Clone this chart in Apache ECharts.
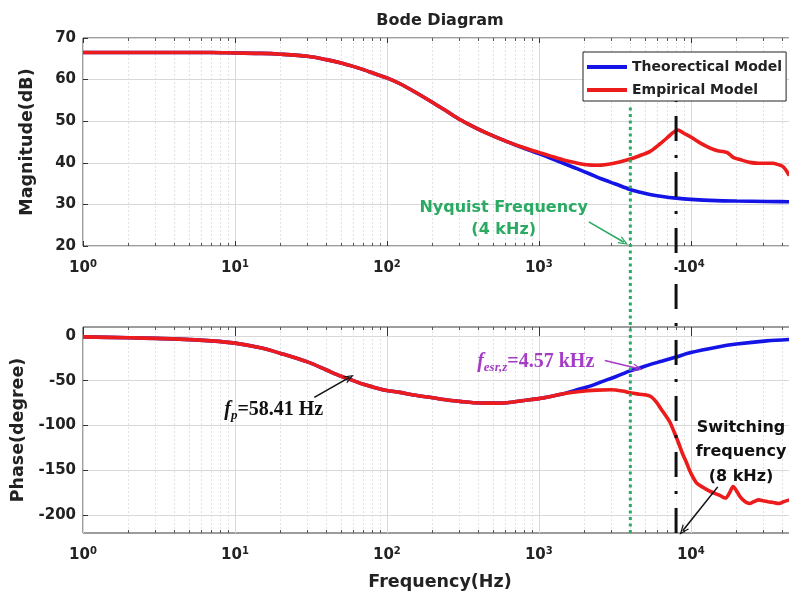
<!DOCTYPE html>
<html><head><meta charset="utf-8">
<script src="https://cdn.jsdelivr.net/npm/echarts@6/dist/echarts.min.js"></script>
<style>html,body{margin:0;padding:0;background:#fff}#c{width:789px;height:593px}</style>
</head><body><div id="c"></div>
<script>
// ---------- data ----------
const freqTheo = [1, 2, 4.3, 7, 10, 15, 20, 30, 40, 50, 58.41, 70, 85, 100, 122, 150, 200, 250, 302, 370, 450, 617, 800, 1000, 1200, 1450, 1750, 2170, 2600, 3200, 3980, 4570, 5370, 6500, 8000, 10000, 14800, 20000, 31600, 50000];
const magTheo = [66.5, 66.5, 66.5, 66.5, 66.4, 66.3, 66.1, 65.6, 64.8, 64.0, 63.3, 62.4, 61.3, 60.4, 59.0, 57.2, 54.5, 52.3, 50.4, 48.7, 47.2, 45.1, 43.5, 42.2, 41.1, 39.9, 38.7, 37.3, 36.1, 34.9, 33.6, 33.0, 32.4, 31.9, 31.5, 31.2, 30.9, 30.8, 30.7, 30.6];
const phaseTheo = [-1, -2, -3.5, -5.5, -8, -13.5, -19.5, -29, -38, -45, -49, -54, -58, -61, -63, -66, -69, -71.5, -73, -74.5, -75, -74.5, -72, -70, -67.5, -64.5, -60.5, -56, -51, -45.5, -39, -36, -32, -28, -23.5, -18.5, -12.5, -9, -5.5, -3.5];

const freqEmpMag = [1, 2, 4.3, 7, 10, 15, 20, 30, 40, 50, 58.41, 70, 85, 100, 122, 150, 200, 250, 302, 370, 450, 617, 800, 1000, 1200, 1450, 1750, 2000, 2400, 2800, 3400, 4000, 4600, 5370, 6200, 6940, 7600, 8190, 9000, 10000, 11500, 13300, 15000, 16300, 17500, 19000, 21000, 24400, 28000, 34600, 38000, 40000, 42000, 44500];
const magEmp = [66.5, 66.5, 66.5, 66.5, 66.4, 66.3, 66.1, 65.6, 64.8, 64.0, 63.3, 62.4, 61.3, 60.4, 59.0, 57.2, 54.5, 52.3, 50.4, 48.7, 47.2, 45.1, 43.6, 42.5, 41.6, 40.7, 40.0, 39.6, 39.4, 39.6, 40.2, 40.9, 41.7, 42.7, 44.4, 45.9, 47.2, 47.9, 47.1, 46.2, 44.8, 43.6, 42.9, 42.7, 42.4, 41.3, 40.8, 40.1, 39.9, 39.9, 39.5, 39.2, 38.4, 36.9];

const freqEmpPhase = [1, 2, 4.3, 7, 10, 15, 20, 30, 40, 50, 58.41, 70, 85, 100, 122, 150, 200, 250, 302, 370, 450, 617, 800, 1000, 1200, 1450, 1860, 2400, 3000, 3560, 4000, 4600, 5100, 5500, 5940, 6400, 6900, 7280, 7800, 8200, 8800, 9400, 10000, 10900, 12000, 13200, 14500, 15500, 16900, 18000, 19000, 20000, 21200, 22800, 24400, 26000, 28000, 30000, 32300, 35000, 38000, 41000, 44500];
const phaseEmp = [-1, -2, -3.5, -5.5, -8, -13.5, -19.5, -29, -38, -45, -49, -54, -58, -61, -63, -66, -69, -71.5, -73, -74.5, -75, -74.5, -72, -70, -67.5, -64.5, -62, -60.5, -60, -61.5, -63.5, -65, -66, -68, -74, -82, -90, -96, -108, -117, -131, -142, -153, -164, -169, -173, -176, -178, -181, -175, -168, -173, -180, -185, -187, -185, -183, -184, -185, -186, -187, -185, -183];

const phaseTicks = [-200, -150, -100, -50, 0];
const nyquistFreq = 4000;
const switchFreq = 8000;
const seriesNames = ['Theorectical Model', 'Empirical Model'];

// minor log ticks 2..9 per decade
const minorFreqs = [];
for (let k = 0; k <= 4; k++) for (let m = 2; m <= 9; m++) { const v = m * Math.pow(10, k); if (v < 50000) minorFreqs.push(v); }

// ---------- styling ----------
const SANS = 'DejaVu Sans', SERIF = 'Liberation Serif';
const TXT = '#222';
const BLUE = '#1414e6', RED = '#ec1c1c', GREEN = '#2aaa62', MAG = '#a53cc6';
const pairs = (xs, ys) => xs.map((x, i) => [x, ys[i]]);
const arrowHead = 'path://M0,10 L5,0 L10,10 L8.4,10 L5,3.2 L1.6,10 Z';
// vertical reference lines start just below the legend box (fraction of the overlay height)
const nyquistTop = 0.862, switchTop = 0.873;

function decadeLabel(v) {
  const e = Math.round(Math.log10(v));
  return Math.abs(Math.pow(10, e) - v) < 1e-6 * v ? '10{sup|' + e + '}' : '';
}
const labelFont = { fontFamily: SANS, fontWeight: 'bold', fontSize: 15, color: TXT };
const nameFont = { fontFamily: SANS, fontWeight: 'bold', fontSize: 17.5, color: TXT };

function xAxesFor(gridIndex, withLabels, name) {
  const base = { type: 'log', logBase: 10, gridIndex, min: 1, max: 50000, axisLine: { show: false } };
  return [
    Object.assign({}, base, {
      position: 'bottom',
      axisTick: { show: true, inside: true, length: 5, lineStyle: { color: '#333' } },
      axisLabel: Object.assign({ show: withLabels, margin: 13, formatter: decadeLabel,
        rich: { sup: { fontFamily: SANS, fontWeight: 'bold', fontSize: 10, color: TXT, padding: [0, 0, 9, 0] } } }, labelFont),
      splitLine: { show: true, lineStyle: { color: '#d8d8d8', width: 1 } },
      name: name || '', nameLocation: 'middle', nameGap: 40, nameTextStyle: nameFont
    }),
    Object.assign({}, base, {
      position: 'bottom',
      axisTick: { show: true, inside: true, length: 3, customValues: minorFreqs, lineStyle: { color: '#555' } },
      axisLabel: { show: false },
      splitLine: { show: true, lineStyle: { color: '#e2e2e2', width: 1, type: [2, 2] } }
    }),
    Object.assign({}, base, {
      position: 'top',
      axisTick: { show: true, inside: true, length: 5, lineStyle: { color: '#333' } },
      axisLabel: { show: false }, splitLine: { show: false }
    }),
    Object.assign({}, base, {
      position: 'top',
      axisTick: { show: true, inside: true, length: 3, customValues: minorFreqs, lineStyle: { color: '#555' } },
      axisLabel: { show: false }, splitLine: { show: false }
    })
  ];
}

const xAxis = [].concat(
  xAxesFor(0, true, ''),
  xAxesFor(1, true, 'Frequency(Hz)'),
  [{ type: 'log', logBase: 10, gridIndex: 2, min: 1, max: 50000, show: false }]
);

const yAxis = [
  { type: 'value', gridIndex: 0, min: 20, max: 70, interval: 10,
    axisLine: { show: false },
    axisTick: { show: true, inside: true, length: 5, lineStyle: { color: '#333' } },
    axisLabel: Object.assign({ margin: 7 }, labelFont),
    splitLine: { show: true, lineStyle: { color: '#d8d8d8' } },
    name: 'Magnitude(dB)', nameLocation: 'middle', nameGap: 47, nameTextStyle: nameFont },
  { type: 'value', gridIndex: 1, min: -220, max: 10,
    axisLine: { show: false },
    axisTick: { show: true, inside: true, length: 5, customValues: phaseTicks, lineStyle: { color: '#333' } },
    axisLabel: Object.assign({ margin: 7, customValues: phaseTicks }, labelFont),
    splitLine: { show: true, lineStyle: { color: '#d8d8d8' } },
    name: 'Phase(degree)', nameLocation: 'middle', nameGap: 49, nameTextStyle: nameFont },
  { type: 'value', gridIndex: 2, min: 0, max: 1, show: false }
];

const gridBox = { show: true, borderColor: '#3a3a3a', borderWidth: 1, backgroundColor: 'transparent', outerBoundsMode: 'none', containLabel: false };
const grid = [
  Object.assign({ left: 83, top: 38, width: 714, height: 208 }, gridBox),
  Object.assign({ left: 83, top: 327, width: 714, height: 206 }, gridBox),
  { left: 83, top: 38, width: 714, height: 495, show: false, outerBoundsMode: 'none', containLabel: false }
];

function arrow(from, to, color) {
  return [{ coord: from, lineStyle: { color, width: 1.6, type: 'solid' } }, { coord: to }];
}
function textMark(coord, formatter, style) {
  return { coord, symbol: 'circle', symbolSize: 1, itemStyle: { color: 'rgba(0,0,0,0)' },
    label: Object.assign({ show: true, position: 'inside', formatter, align: 'center' }, style) };
}
const serifRich = (color) => ({
  fi: { fontFamily: SERIF, fontStyle: 'italic', fontWeight: 'bold', fontSize: 20, color },
  sub: { fontFamily: SERIF, fontStyle: 'italic', fontWeight: 'bold', fontSize: 13, color, padding: [10, 0, 0, 0] },
  t: { fontFamily: SERIF, fontWeight: 'bold', fontSize: 20, color }
});

const curve = (color) => ({ type: 'line', showSymbol: false, symbol: 'none', smooth: 0.3,
  color, itemStyle: { color }, lineStyle: { color, width: 3.6 }, z: 2 });

const series = [
  Object.assign(curve(BLUE), { name: seriesNames[0], xAxisIndex: 0, yAxisIndex: 0, data: pairs(freqTheo, magTheo),
    markLine: { silent: true, animation: false, symbol: ['none', arrowHead], symbolSize: [8, 10], label: { show: false },
      data: [arrow([2133, 25.8], [3630, 20.9], GREEN)] },
    markPoint: { silent: true, animation: false,
      data: [textMark([587, 26.6], 'Nyquist Frequency\n(4 kHz)', { color: GREEN, fontFamily: SANS, fontWeight: 'bold', fontSize: 16, lineHeight: 22 })] } }),
  Object.assign(curve(RED), { name: seriesNames[1], xAxisIndex: 0, yAxisIndex: 0, data: pairs(freqEmpMag, magEmp) }),
  Object.assign(curve(BLUE), { name: seriesNames[0], xAxisIndex: 4, yAxisIndex: 1, data: pairs(freqTheo, phaseTheo),
    markLine: { silent: true, animation: false, symbol: ['none', arrowHead], symbolSize: [8, 10], label: { show: false },
      data: [
        arrow([33.3, -68.6], [56.7, -46.3], '#111'),
        arrow([2718, -27.4], [4487, -36.3], MAG),
        arrow([15040, -168.5], [8850, -217.5], '#111')
      ] },
    markPoint: { silent: true, animation: false,
      data: [
        textMark([18.0, -83], '{fi|f}{sub|p}{t|=58.41 Hz}', { rich: serifRich('#111') }),
        textMark([954, -29.3], '{fi|f}{sub|esr,z}{t|=4.57 kHz}', { rich: serifRich(MAG) }),
        textMark([21400, -129.8], 'Switching\nfrequency\n(8 kHz)', { color: '#111', fontFamily: SANS, fontWeight: 'bold', fontSize: 16, lineHeight: 24.5 })
      ] } }),
  Object.assign(curve(RED), { name: seriesNames[1], xAxisIndex: 4, yAxisIndex: 1, data: pairs(freqEmpPhase, phaseEmp) }),
  { type: 'line', name: 'nyquist', xAxisIndex: 8, yAxisIndex: 2, symbol: 'none', z: 3, silent: true,
    data: [[nyquistFreq, 0], [nyquistFreq, nyquistTop]], lineStyle: { color: GREEN, width: 3, type: [3, 3.5] } },
  { type: 'line', name: 'switching', xAxisIndex: 8, yAxisIndex: 2, symbol: 'none', z: 3, silent: true,
    data: [[switchFreq, 0], [switchFreq, switchTop]], lineStyle: { color: '#111', width: 3, type: [25, 14, 3, 14] } }
];

const option = {
  animation: false,
  backgroundColor: '#fff',
  title: { text: 'Bode Diagram', left: 440, top: 13, textAlign: 'center', padding: 0,
    textStyle: { fontFamily: SANS, fontWeight: 'bold', fontSize: 16, color: TXT } },
  legend: { data: seriesNames, orient: 'vertical', left: 583, top: 52, icon: 'rect', itemWidth: 40, itemHeight: 4,
    itemGap: 9, padding: [8, 4, 4, 4], borderColor: '#222', borderWidth: 1, borderRadius: 0, backgroundColor: '#fff',
    textStyle: { fontFamily: SANS, fontWeight: 'bold', fontSize: 14, color: TXT }, selectedMode: false, z: 10 },
  grid, xAxis, yAxis, series
};

const chart = echarts.init(document.getElementById('c'), null, { renderer: 'canvas' });
chart.setOption(option);
</script></body></html>
